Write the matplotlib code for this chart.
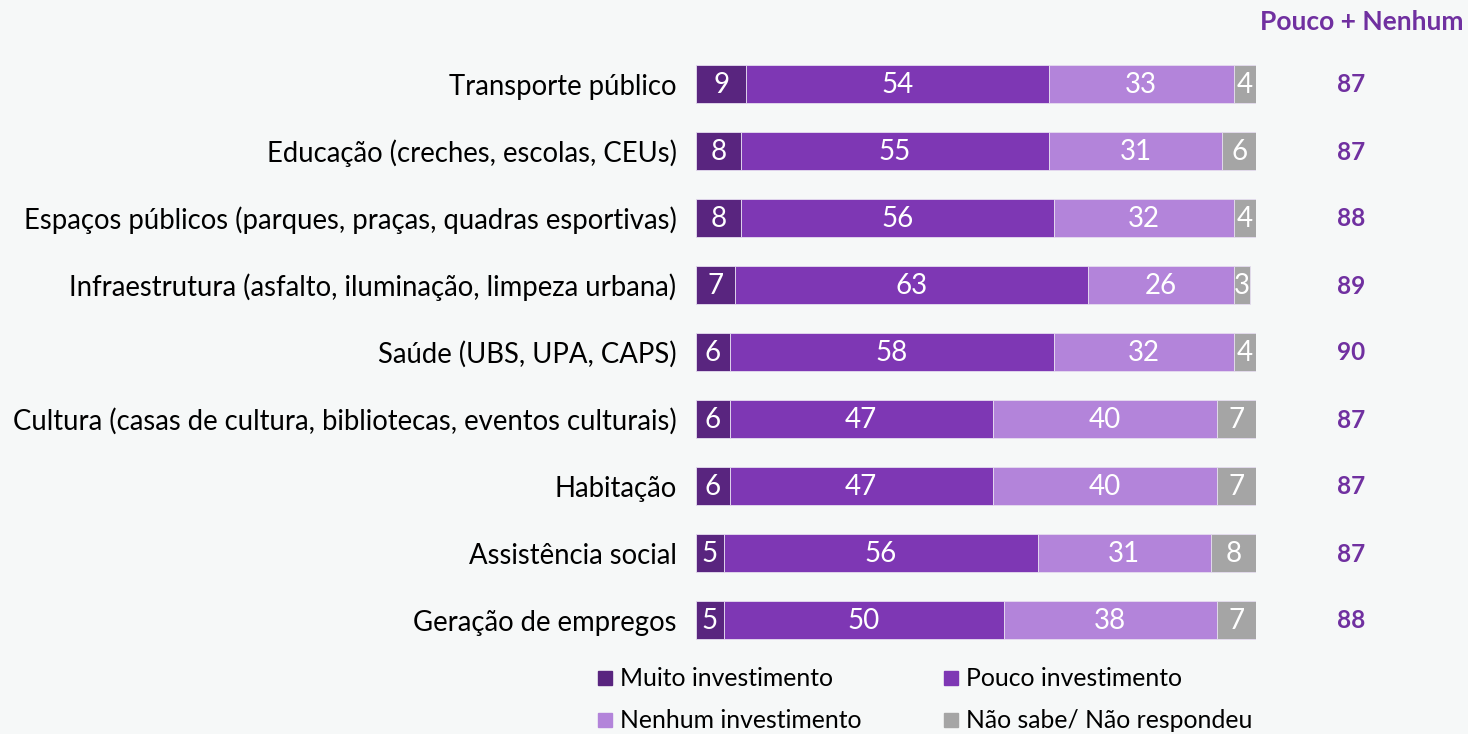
import matplotlib
matplotlib.use("Agg")
import matplotlib.pyplot as plt
from matplotlib.patches import Rectangle

plt.rcParams['font.family'] = ['Lato', 'DejaVu Sans']

# data
categorias = ['Transporte público',
              'Educação (creches, escolas, CEUs)',
              'Espaços públicos (parques, praças, quadras esportivas)',
              'Infraestrutura (asfalto, iluminação, limpeza urbana)',
              'Saúde (UBS, UPA, CAPS)',
              'Cultura (casas de cultura, bibliotecas, eventos culturais)',
              'Habitação',
              'Assistência social',
              'Geração de empregos']
muito = [9, 8, 8, 7, 6, 6, 6, 5, 5]
pouco = [54, 55, 56, 63, 58, 47, 47, 56, 50]
nenhum = [33, 31, 32, 26, 32, 40, 40, 31, 38]
nao_sabe = [4, 6, 4, 3, 4, 7, 7, 8, 7]
pouco_nenhum = [87, 87, 88, 89, 90, 87, 87, 87, 88]

series = [muito, pouco, nenhum, nao_sabe]
nomes = ['Muito investimento', 'Pouco investimento',
         'Nenhum investimento', 'Não sabe/ Não respondeu']
cores = ['#59257F', '#7E37B4', '#B384DA', '#A5A5A5']
bg = '#F6F8F8'
roxo = '#7030A0'

W, H = 1468, 734
fig = plt.figure(figsize=(W / 100, H / 100), dpi=100, facecolor=bg)
ax = fig.add_axes([696 / W, 1 - 653.5 / H, 560 / W, 603 / H])
ax.set_facecolor(bg)

y = list(range(len(categorias)))
left = [0] * len(categorias)
for vals, cor in zip(series, cores):
    bars = ax.barh(y, vals, left=left, height=0.57, color=cor,
                   edgecolor='#E6DDF0', linewidth=0.6)
    for b, v in zip(bars, vals):
        ax.text(b.get_x() + b.get_width() / 2, b.get_y() + b.get_height() / 2 + 0.02,
                str(v), ha='center', va='center', color='white', fontsize=20)
    left = [l + v for l, v in zip(left, vals)]

ax.set_xlim(0, 100)
ax.set_ylim(len(categorias) - 0.5, -0.5)
ax.set_yticks(y)
ax.set_yticklabels(categorias, fontsize=19.8)
ax.tick_params(axis='y', length=0, pad=14)
ax.set_xticks([])
for s in ax.spines.values():
    s.set_visible(False)

# coluna "Pouco + Nenhum"
for i, v in enumerate(pouco_nenhum):
    ax.annotate(str(v), xy=(100, i), xycoords='data',
                xytext=(1351 - 1256, -1), textcoords='offset pixels',
                ha='center', va='center', color=roxo, fontsize=17.5,
                fontweight='bold')
fig.text(1463 / W, 1 - 22 / H, 'Pouco + Nenhum', ha='right', va='center',
         color=roxo, fontsize=19, fontweight='bold')

# legenda
leg_pos = [(598, 678), (944, 678), (598, 720), (944, 720)]
for (px, py), nome, cor in zip(leg_pos, nomes, cores):
    fig.add_artist(Rectangle((px / W, 1 - (py + 7) / H), 14 / W, 14 / H,
                             transform=fig.transFigure, color=cor))
    fig.text((px + 22) / W, 1 - py / H, nome, ha='left', va='center',
             fontsize=17.8, color='black')

fig.savefig('out.png', dpi=100, facecolor=bg)
